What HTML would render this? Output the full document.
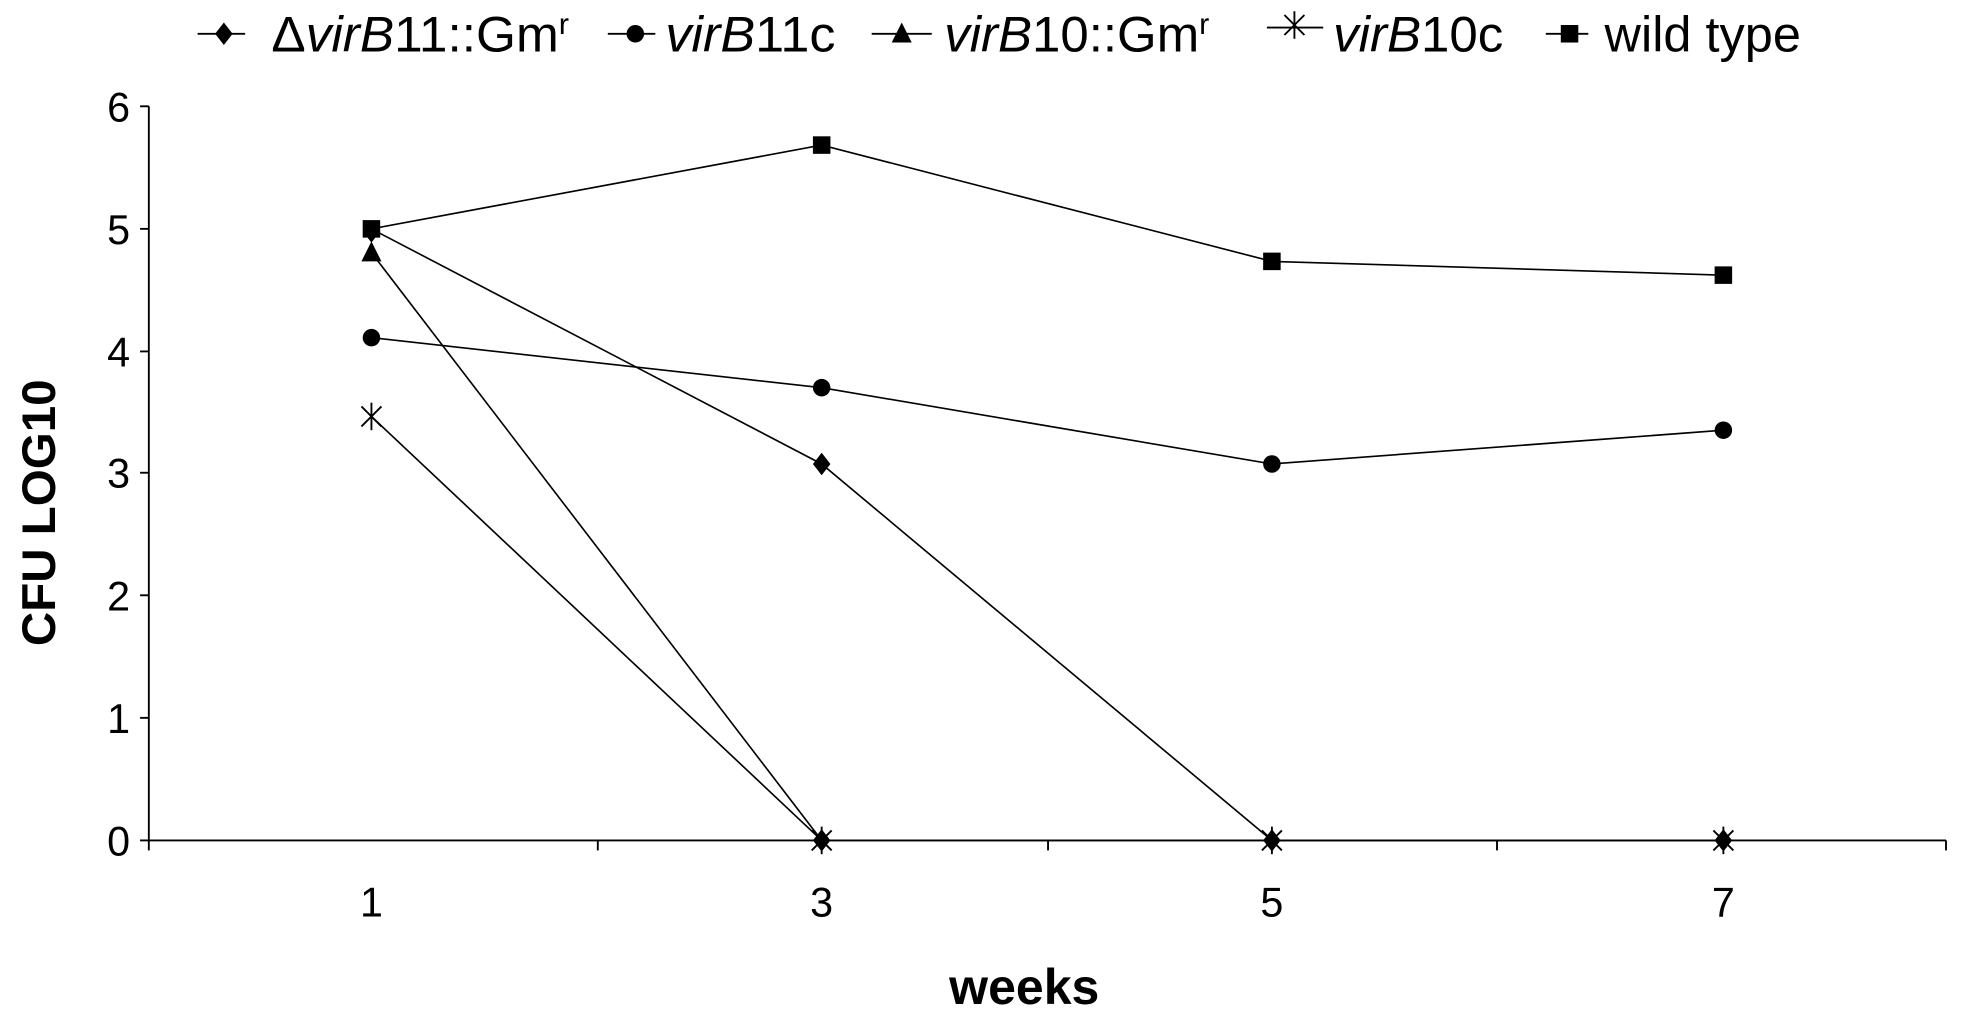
<!DOCTYPE html>
<html><head><style>html,body{margin:0;padding:0;background:#fff}svg{display:block}</style></head><body>
<svg width="1961" height="1018" viewBox="0 0 1568 814" preserveAspectRatio="none" xmlns="http://www.w3.org/2000/svg" font-family="Liberation Sans, Arial, sans-serif">
<defs>
<g id="sq"><rect x="-7" y="-7" width="14" height="14" fill="#000"/></g>
<g id="ci"><circle r="7" fill="#000"/></g>
<g id="di"><path d="M0,-9 L7,0 L0,9 L-7,0Z" fill="#000"/></g>
<g id="tr"><path d="M0,-9 L8,7 L-8,7Z" fill="#000"/></g>
<g id="st" stroke="#000" stroke-width="1.5"><line x1="-8" y1="-8" x2="8" y2="8"/><line x1="-8" y1="8" x2="8" y2="-8"/><line x1="0" y1="-11" x2="0" y2="11"/></g>
</defs>
<g stroke="#000" stroke-width="1.5">
<line x1="119" y1="85" x2="119" y2="672"/>
<line x1="119" y1="672" x2="1556" y2="672"/>
<line x1="112" y1="85" x2="119" y2="85"/><line x1="112" y1="183" x2="119" y2="183"/><line x1="112" y1="281" x2="119" y2="281"/><line x1="112" y1="378" x2="119" y2="378"/><line x1="112" y1="476" x2="119" y2="476"/><line x1="112" y1="574" x2="119" y2="574"/><line x1="112" y1="672" x2="119" y2="672"/>
<line x1="119" y1="672" x2="119" y2="680"/><line x1="478" y1="672" x2="478" y2="680"/><line x1="838" y1="672" x2="838" y2="680"/><line x1="1197" y1="672" x2="1197" y2="680"/><line x1="1556" y1="672" x2="1556" y2="680"/>
</g>
<g font-size="33" text-anchor="end">
<text x="104" y="97">6</text><text x="104" y="195">5</text><text x="104" y="293">4</text><text x="104" y="390">3</text><text x="104" y="488">2</text><text x="104" y="586">1</text><text x="104" y="684">0</text>
</g>
<g font-size="33" text-anchor="middle">
<text x="297" y="733">1</text><text x="657" y="733">3</text><text x="1017" y="733">5</text><text x="1378" y="733">7</text>
</g>
<text x="819" y="803" font-size="40" font-weight="bold" text-anchor="middle">weeks</text>
<text transform="translate(44,410) rotate(-90)" font-size="38" font-weight="bold" text-anchor="middle">CFU LOG10</text>
<g fill="none" stroke="#000" stroke-width="1.3">
<polyline points="297,183 657,116 1017,209 1378,220"/>
<polyline points="297,270 657,310 1017,371 1378,344"/>
<polyline points="297,183 657,371 1017,672 1378,672"/>
<polyline points="297,202 657,672 1017,672 1378,672"/>
<polyline points="297,333 657,672"/>
</g>
<use href="#sq" x="297" y="183"/><use href="#sq" x="657" y="116"/><use href="#sq" x="1017" y="209"/><use href="#sq" x="1378" y="220"/>
<use href="#ci" x="297" y="270"/><use href="#ci" x="657" y="310"/><use href="#ci" x="1017" y="371"/><use href="#ci" x="1378" y="344"/>
<use href="#di" x="297" y="185"/><use href="#di" x="657" y="371"/>
<use href="#tr" x="297" y="202"/>
<use href="#st" x="297" y="333"/>
<use href="#di" x="657" y="672"/><use href="#di" x="1017" y="672"/><use href="#di" x="1378" y="672"/>
<use href="#st" x="657" y="672"/><use href="#st" x="1017" y="672"/><use href="#st" x="1378" y="672"/>
<g stroke="#000" stroke-width="1.5">
<line x1="158" y1="27" x2="196" y2="27"/><line x1="486" y1="27" x2="524" y2="27"/><line x1="697" y1="27" x2="745" y2="27"/><line x1="1013" y1="22" x2="1058" y2="22"/><line x1="1236" y1="27" x2="1270" y2="27"/>
</g>
<use href="#di" x="179" y="27"/><use href="#ci" x="508" y="27"/><use href="#tr" x="721" y="27"/><use href="#st" x="1035" y="20"/><use href="#sq" x="1255" y="27"/>
<g font-size="40" textLength="0">
<text x="217" y="41" textLength="238" lengthAdjust="spacingAndGlyphs">Δ<tspan font-style="italic">virB</tspan>11::Gm<tspan font-size="24" dy="-14">r</tspan></text>
<text x="532" y="41" textLength="136" lengthAdjust="spacingAndGlyphs"><tspan font-style="italic">virB</tspan>11c</text>
<text x="755" y="41" textLength="212" lengthAdjust="spacingAndGlyphs"><tspan font-style="italic">virB</tspan>10::Gm<tspan font-size="24" dy="-14">r</tspan></text>
<text x="1066" y="41" textLength="136" lengthAdjust="spacingAndGlyphs"><tspan font-style="italic">virB</tspan>10c</text>
<text x="1283" y="41" textLength="157" lengthAdjust="spacingAndGlyphs">wild type</text>
</g>
</svg>
</body></html>
